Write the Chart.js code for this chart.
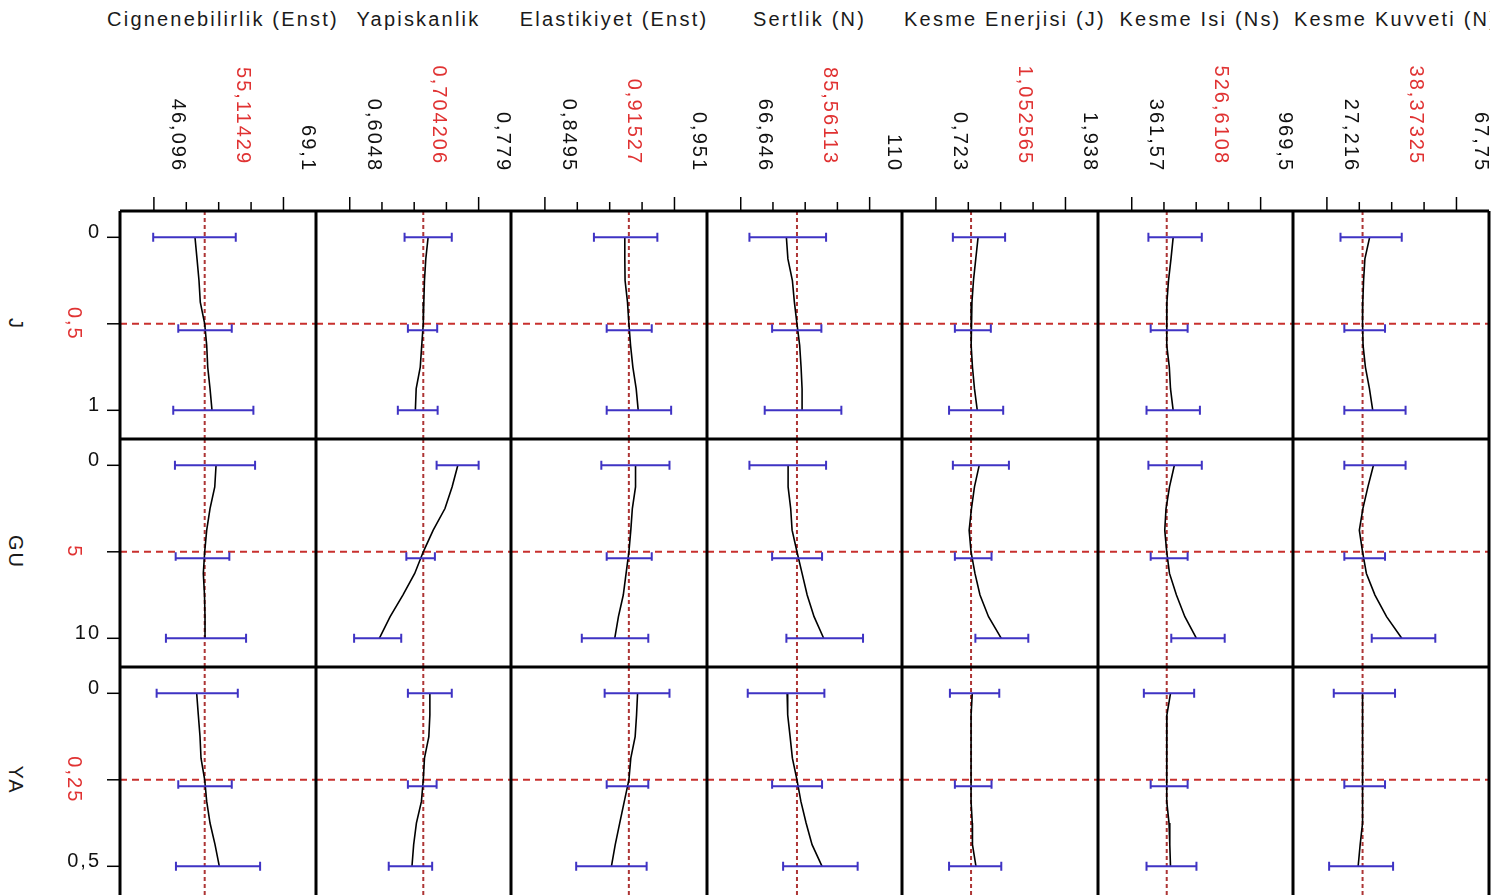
<!DOCTYPE html>
<html>
<head>
<meta charset="utf-8">
<script src="https://cdn.jsdelivr.net/npm/chart.js@4.4.1/dist/chart.umd.min.js"></script>
<style>
html, body { margin: 0; padding: 0; background: #fff; }
body { width: 1497px; height: 895px; overflow: hidden; position: relative; font-family: "Liberation Sans", Arial, sans-serif; }
canvas { position: absolute; }
#titles { position: absolute; left: 0; top: 0; width: 1490px; height: 40px; overflow: hidden; }
.title { position: absolute; top: 7px; font-size: 20px; line-height: 24px; letter-spacing: 2.2px; color: #1a1a1a; white-space: nowrap; transform: translateX(-50%); }
.rowlab { position: absolute; font-size: 20px; line-height: 24px; letter-spacing: 2px; color: #1a1a1a; white-space: nowrap; transform: translate(-50%, -50%) rotate(90deg); }
</style>
</head>
<body>
<div id="titles"></div>
<script>
// Prediction profiler: 3 factors (rows) x 7 responses (columns)
const responses = ['Cignenebilirlik (Enst)', 'Yapiskanlik', 'Elastikiyet (Enst)', 'Sertlik (N)',
                   'Kesme Enerjisi (J)', 'Kesme Isi (Ns)', 'Kesme Kuvveti (N)'];
const factorNames = ['J', 'GU', 'YA'];
const factorLow = [0, 0, 0];
const factorMid = [0.5, 5, 0.25];
const factorHigh = [1, 10, 0.5];
const factorLowLabels = ['0', '0', '0'];
const factorMidLabels = ['0,5', '5', '0,25'];
const factorHighLabels = ['1', '10', '0,5'];

const axisLow = [46.096, 0.6048, 0.8495, 66.646, 0.723, 361.57, 27.216];
const axisHigh = [69.1, 0.779, 0.951, 110, 1.938, 969.5, 67.75];
const axisLowLabels = ['46,096', '0,6048', '0,8495', '66,646', '0,723', '361,57', '27,216'];
const axisHighLabels = ['69,1', '0,779', '0,951', '110', '1,938', '969,5', '67,75'];
const currentValues = [55.11429, 0.704206, 0.91527, 85.56113, 1.052565, 526.6108, 38.37325];
const currentLabels = ['55,11429', '0,704206', '0,91527', '85,56113', '1,052565', '526,6108', '38,37325'];

// factor settings where the profile traces were read
const stepsJ = [0, 0.125, 0.25, 0.375, 0.5, 0.625, 0.75, 0.875, 1];
const stepsGU = [0, 1.25, 2.5, 3.75, 5, 6.25, 7.5, 8.75, 10];
const stepsYA = [0, 0.0625, 0.125, 0.1875, 0.25, 0.3125, 0.375, 0.4375, 0.5];

// predicted response along each factor (one list per response column)
const profileJ = [
    [53.39, 53.75, 54.10, 54.33, 55.114, 55.47, 55.65, 56.06, 56.41],
    [0.7107, 0.7076, 0.7058, 0.7049, 0.7042, 0.7021, 0.7001, 0.6946, 0.6935],
    [0.9121, 0.9121, 0.9123, 0.9142, 0.9153, 0.9166, 0.9184, 0.9210, 0.9226],
    [82.00, 82.51, 84.02, 84.69, 85.56, 86.47, 86.94, 87.28, 87.28],
    [1.1185, 1.0968, 1.0752, 1.0610, 1.0526, 1.0545, 1.0658, 1.0846, 1.1110],
    [557.0, 546.7, 535.0, 527.5, 526.6, 527.0, 538.8, 544.4, 557.0],
    [40.58, 39.10, 38.69, 38.44, 38.37, 38.53, 39.26, 40.52, 41.56]
];
const profileGU = [
    [57.13, 56.90, 56.06, 55.47, 55.114, 54.87, 55.08, 55.17, 55.17],
    [0.7509, 0.7431, 0.7335, 0.7176, 0.7042, 0.6926, 0.6766, 0.6594, 0.6448],
    [0.9205, 0.9205, 0.9180, 0.9168, 0.9153, 0.9131, 0.9109, 0.9071, 0.9042],
    [82.58, 82.58, 83.45, 83.92, 85.56, 87.28, 88.99, 91.31, 94.54],
    [1.1289, 1.0846, 1.0563, 1.0347, 1.0526, 1.0893, 1.1364, 1.2165, 1.3361],
    [562.6, 539.7, 523.3, 517.3, 526.6, 539.7, 572.4, 612.1, 666.8],
    [41.78, 40.04, 38.47, 37.36, 38.37, 39.57, 42.25, 45.88, 50.63]
];
const profileYA = [
    [53.69, 53.98, 54.28, 54.46, 55.114, 55.47, 56.06, 56.95, 57.71],
    [0.7131, 0.7131, 0.7117, 0.7058, 0.7042, 0.7017, 0.6949, 0.6912, 0.6889],
    [0.9221, 0.9213, 0.9202, 0.9168, 0.9153, 0.9117, 0.9081, 0.9046, 0.9016],
    [82.24, 82.44, 83.25, 84.02, 85.56, 86.88, 88.63, 90.64, 94.00],
    [1.0639, 1.0530, 1.0526, 1.0526, 1.0526, 1.0530, 1.0639, 1.0658, 1.0987],
    [544.4, 527.5, 526.6, 526.6, 526.6, 527.0, 537.4, 541.1, 544.4],
    [38.37, 38.37, 38.37, 38.37, 38.37, 38.37, 38.37, 37.62, 36.99]
];

// confidence intervals at factor low / mid / high
const lowJ = [[45.97, 50.42, 49.53], [0.6789, 0.6834, 0.6698], [0.8879, 0.8979, 0.8979], [69.57, 77.20, 74.71],
              [0.8821, 0.9009, 0.8463], [440.2, 450.9, 431.3], [31.47, 32.67, 32.67]];
const highJ = [[60.63, 59.92, 63.76], [0.7427, 0.7230, 0.7236], [0.9376, 0.9332, 0.9484], [95.35, 93.77, 100.49],
               [1.3719, 1.2381, 1.3540], [692.0, 625.2, 683.1], [50.63, 45.40, 51.83]];
const lowGU = [[49.83, 49.96, 48.23], [0.7222, 0.6813, 0.6107], [0.8937, 0.8979, 0.8784], [69.57, 77.20, 82.00],
               [0.8821, 0.9009, 1.0931], [440.2, 450.9, 548.1], [32.67, 32.67, 41.24]];
const highGU = [[64.06, 59.49, 62.46], [0.7790, 0.7199, 0.6744], [0.9471, 0.9332, 0.9305], [95.35, 94.00, 107.78],
                [1.4077, 1.2447, 1.5895], [692.0, 625.2, 800.0], [51.83, 45.40, 61.13]];
const lowYA = [[46.58, 50.42, 50.01], [0.6834, 0.6834, 0.6575], [0.8963, 0.8979, 0.8740], [69.00, 77.20, 80.90],
               [0.8544, 0.9009, 0.8463], [418.7, 450.9, 431.3], [29.36, 32.67, 27.91]];
const highYA = [[60.99, 59.92, 64.95], [0.7427, 0.7222, 0.7162], [0.9471, 0.9305, 0.9292], [94.78, 94.00, 105.97],
                [1.3172, 1.2447, 1.3361], [656.0, 625.2, 666.8], [48.53, 45.40, 47.92]];

const steps = [stepsJ, stepsGU, stepsYA];
const profiles = [profileJ, profileGU, profileYA];
const lows = [lowJ, lowGU, lowYA];
const highs = [highJ, highGU, highYA];

// layout of the panel grid
const xs = [120, 316, 511, 707, 902, 1098, 1293, 1489];
const ys = [211, 439, 667];
const panelH = 228;
const FONT = '20px "Liberation Sans", Arial, sans-serif';
const RED = '#e03232';

// titles and row labels
const titleBox = document.getElementById('titles');
responses.forEach(function(name, c) {
    const d = document.createElement('div');
    d.className = 'title';
    d.textContent = name;
    d.style.left = ((xs[c] + xs[c + 1]) / 2 + 5) + 'px';
    titleBox.appendChild(d);
});

const errorBarPlugin = {
    id: 'errorBars',
    afterDatasetsDraw(chart) {
        const p = chart.canvas.panel;
        const ctx = chart.ctx;
        const x = chart.scales.x, y = chart.scales.y;
        ctx.save();
        ctx.strokeStyle = '#3f33c4';
        ctx.lineWidth = 2;
        p.levels.forEach(function(f, i) {
            const yc = y.getPixelForValue(f);
            const x1 = x.getPixelForValue(p.low[i]);
            const x2 = x.getPixelForValue(p.high[i]);
            const mid = i === 1;
            const yb = mid ? yc + 6.5 : yc;
            const c1 = mid ? yc + 0.5 : yc - 4.5;
            const c2 = mid ? yc + 9 : yc + 4.5;
            ctx.beginPath();
            ctx.moveTo(x1, yb); ctx.lineTo(x2, yb);
            ctx.moveTo(x1, c1); ctx.lineTo(x1, c2);
            ctx.moveTo(x2, c1); ctx.lineTo(x2, c2);
            ctx.stroke();
        });
        ctx.restore();
    }
};

const framePlugin = {
    id: 'frame',
    afterDraw(chart) {
        const p = chart.canvas.panel;
        const ctx = chart.ctx;
        const a = chart.chartArea;
        const x = chart.scales.x, y = chart.scales.y;
        ctx.save();
        ctx.strokeStyle = '#000';
        ctx.lineWidth = 3;
        ctx.beginPath();
        ctx.moveTo(a.left, a.top); ctx.lineTo(a.right, a.top);
        ctx.moveTo(a.left, a.top); ctx.lineTo(a.left, a.bottom);
        ctx.moveTo(a.right, a.top); ctx.lineTo(a.right, a.bottom);
        if (p.row < 2) { ctx.moveTo(a.left, a.bottom); ctx.lineTo(a.right, a.bottom); }
        ctx.stroke();

        ctx.font = FONT;
        ctx.letterSpacing = '2px';
        ctx.lineWidth = 1.5;

        // response axis along the top row
        if (p.row === 0) {
            const c = p.col;
            const lo = axisLow[c], hi = axisHigh[c];
            for (let k = 0; k <= 4; k++) {
                const px = x.getPixelForValue(lo + k * (hi - lo) / 4);
                const len = (k === 0 || k === 4) ? 14 : 9;
                ctx.beginPath();
                ctx.moveTo(px, a.top - len); ctx.lineTo(px, a.top);
                ctx.stroke();
            }
            const xl = x.getPixelForValue(lo), xh = x.getPixelForValue(hi);
            const rotLabel = function(text, px, py, color) {
                ctx.save();
                ctx.fillStyle = color;
                ctx.translate(px, py);
                ctx.rotate(Math.PI / 2);
                ctx.textAlign = 'right';
                ctx.textBaseline = 'middle';
                ctx.fillText(text, 0, 0);
                ctx.restore();
            };
            rotLabel(axisLowLabels[c], xl + 24, a.top - 39, '#111');
            rotLabel(axisHighLabels[c], xh + 24, a.top - 39, '#111');
            rotLabel(currentLabels[c], (xl + xh) / 2 + 24, a.top - 46, RED);
        }

        // factor axis along the left column
        if (p.col === 0) {
            const r = p.row;
            const vals = [factorLow[r], factorMid[r], factorHigh[r]];
            vals.forEach(function(f, i) {
                const py = y.getPixelForValue(f);
                ctx.beginPath();
                ctx.moveTo(a.left - 13, py); ctx.lineTo(a.left, py);
                ctx.stroke();
                if (i === 1) {
                    ctx.save();
                    ctx.fillStyle = RED;
                    ctx.translate(74, py);
                    ctx.rotate(Math.PI / 2);
                    ctx.textAlign = 'center';
                    ctx.textBaseline = 'middle';
                    ctx.fillText(factorMidLabels[r], 0, 0);
                    ctx.restore();
                } else {
                    ctx.fillStyle = '#111';
                    ctx.textAlign = 'right';
                    ctx.textBaseline = 'alphabetic';
                    ctx.fillText(i === 0 ? factorLowLabels[r] : factorHighLabels[r], 101, py + 1);
                }
            });
        }
        ctx.restore();
    }
};

for (let r = 0; r < 3; r++) {
    const pTop = ys[r];
    const pBottom = ys[r] + panelH;
    const fRange = factorHigh[r] - factorLow[r];
    const yMin = factorLow[r] - 26.3 / 173 * fRange;
    const yMax = factorHigh[r] + 28.7 / 173 * fRange;

    // row label
    const lab = document.createElement('div');
    lab.className = 'rowlab';
    lab.textContent = factorNames[r];
    lab.style.left = '15.5px';
    lab.style.top = (pTop + 26.3 + 86.5) + 'px';
    document.body.appendChild(lab);

    for (let c = 0; c < 7; c++) {
        const pLeft = xs[c], pRight = xs[c + 1];
        const cl = c === 0 ? 0 : pLeft;
        const cr = c === 6 ? 1497 : pRight;
        const ct = r === 0 ? 40 : pTop;
        const cb = pBottom;

        const canvas = document.createElement('canvas');
        canvas.width = cr - cl;
        canvas.height = cb - ct;
        canvas.style.left = cl + 'px';
        canvas.style.top = ct + 'px';
        canvas.style.width = (cr - cl) + 'px';
        canvas.style.height = (cb - ct) + 'px';
        canvas.panel = {
            row: r, col: c,
            levels: [factorLow[r], factorMid[r], factorHigh[r]],
            low: lows[r][c], high: highs[r][c]
        };
        document.body.appendChild(canvas);

        const span = axisHigh[c] - axisLow[c];
        const xMin = axisLow[c] - 0.2617 * span;
        const xMax = axisHigh[c] + 0.2511 * span;

        const curve = steps[r].map(function(f, i) { return { x: profiles[r][c][i], y: f }; });

        new Chart(canvas.getContext('2d'), {
            type: 'scatter',
            data: {
                datasets: [
                    { data: curve, showLine: true, borderColor: '#000', borderWidth: 1.6, pointRadius: 0, tension: 0 },
                    { data: [{ x: xMin, y: factorMid[r] }, { x: xMax, y: factorMid[r] }], showLine: true,
                      borderColor: '#c8302e', borderWidth: 2, borderDash: [7, 5], pointRadius: 0 },
                    { data: [{ x: currentValues[c], y: yMin }, { x: currentValues[c], y: yMax }], showLine: true,
                      borderColor: '#ad3535', borderWidth: 2, borderDash: [4, 3], pointRadius: 0 }
                ]
            },
            options: {
                responsive: false,
                animation: false,
                devicePixelRatio: 1,
                events: [],
                layout: { padding: { left: pLeft - cl, right: cr - pRight, top: pTop - ct, bottom: 0 } },
                plugins: { legend: { display: false }, tooltip: { enabled: false } },
                scales: {
                    x: { type: 'linear', display: false, min: xMin, max: xMax },
                    y: { type: 'linear', display: false, min: yMin, max: yMax, reverse: true }
                }
            },
            plugins: [errorBarPlugin, framePlugin]
        });
    }
}
</script>
</body>
</html>
